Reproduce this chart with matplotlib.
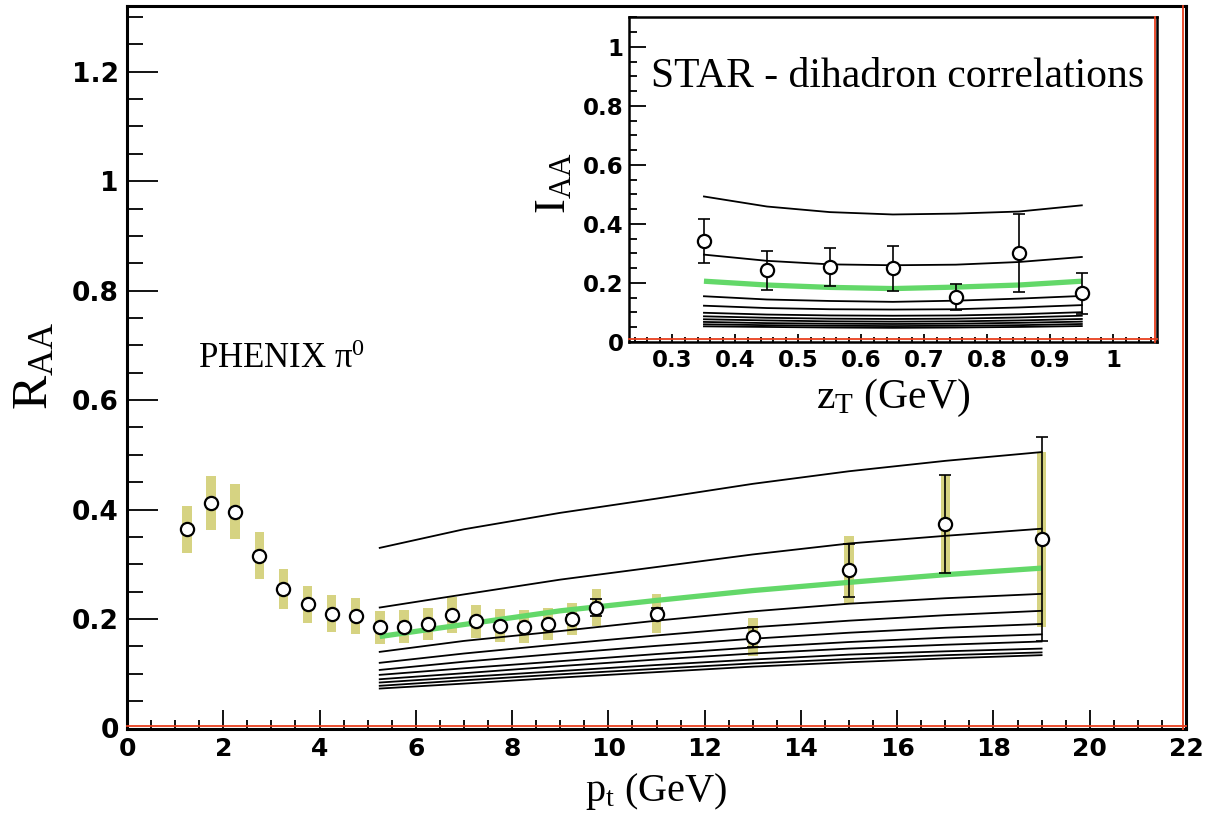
import numpy as np
import matplotlib
matplotlib.use("Agg")
import matplotlib.pyplot as plt
from matplotlib.ticker import MultipleLocator, FuncFormatter
from matplotlib.transforms import offset_copy

plt.rcParams['mathtext.default'] = 'regular'

# ---------------- main panel data (PHENIX pi0 R_AA) ----------------
pt = [1.25, 1.75, 2.25, 2.75, 3.25, 3.75, 4.25, 4.75, 5.25, 5.75, 6.25, 6.75,
      7.25, 7.75, 8.25, 8.75, 9.25, 9.75, 11, 13, 15, 17, 19]
raa = [0.364, 0.412, 0.396, 0.316, 0.255, 0.227, 0.210, 0.205, 0.185, 0.186,
       0.191, 0.207, 0.196, 0.188, 0.186, 0.191, 0.200, 0.221, 0.210, 0.167,
       0.289, 0.374, 0.346]
raa_stat = [0.005, 0.005, 0.005, 0.005, 0.005, 0.005, 0.005, 0.005, 0.005,
            0.005, 0.005, 0.005, 0.005, 0.005, 0.005, 0.006, 0.008, 0.015,
            0.010, 0.019, 0.048, 0.090, 0.187]
raa_sys = [0.043, 0.050, 0.050, 0.043, 0.037, 0.034, 0.033, 0.033, 0.030,
           0.030, 0.030, 0.033, 0.030, 0.030, 0.030, 0.030, 0.030, 0.033,
           0.036, 0.034, 0.062, 0.090, 0.160]

# theory curves (main panel)
pt_th = [5.25, 7, 9, 11, 13, 15, 17, 19]
raa_th_black = [
    [0.330, 0.364, 0.394, 0.420, 0.447, 0.470, 0.489, 0.505],
    [0.221, 0.245, 0.272, 0.295, 0.318, 0.338, 0.352, 0.365],
    [0.140, 0.160, 0.178, 0.197, 0.214, 0.228, 0.238, 0.246],
    [0.120, 0.137, 0.154, 0.170, 0.185, 0.197, 0.207, 0.215],
    [0.107, 0.122, 0.137, 0.151, 0.164, 0.175, 0.184, 0.191],
    [0.098, 0.110, 0.123, 0.136, 0.148, 0.158, 0.166, 0.172],
    [0.090, 0.101, 0.114, 0.126, 0.137, 0.146, 0.153, 0.159],
    [0.084, 0.094, 0.105, 0.116, 0.126, 0.135, 0.141, 0.146],
    [0.078, 0.088, 0.099, 0.109, 0.119, 0.127, 0.134, 0.139],
    [0.073, 0.082, 0.093, 0.103, 0.113, 0.121, 0.128, 0.134],
]
raa_th_green = [0.168, 0.190, 0.215, 0.234, 0.252, 0.267, 0.281, 0.293]

# ---------------- inset data (STAR dihadron I_AA) ----------------
zt = [0.35, 0.45, 0.55, 0.65, 0.75, 0.85, 0.95]
iaa = [0.342, 0.243, 0.254, 0.249, 0.153, 0.300, 0.165]
iaa_err = [0.073, 0.066, 0.063, 0.075, 0.045, 0.132, 0.070]

iaa_th_black = [
    [0.493, 0.459, 0.440, 0.432, 0.435, 0.442, 0.463],
    [0.296, 0.275, 0.263, 0.260, 0.262, 0.271, 0.288],
    [0.155, 0.144, 0.139, 0.136, 0.140, 0.147, 0.156],
    [0.123, 0.115, 0.111, 0.110, 0.111, 0.117, 0.125],
    [0.099, 0.093, 0.090, 0.089, 0.090, 0.094, 0.101],
    [0.087, 0.082, 0.079, 0.078, 0.079, 0.083, 0.089],
    [0.077, 0.073, 0.070, 0.069, 0.070, 0.073, 0.078],
    [0.068, 0.064, 0.062, 0.061, 0.062, 0.065, 0.069],
    [0.060, 0.057, 0.055, 0.054, 0.055, 0.057, 0.061],
    [0.053, 0.051, 0.049, 0.048, 0.049, 0.051, 0.054],
]
iaa_th_green = [0.206, 0.193, 0.185, 0.181, 0.186, 0.193, 0.206]

main_xticks = [0, 2, 4, 6, 8, 10, 12, 14, 16, 18, 20, 22]
main_yticks = [0, 0.2, 0.4, 0.6, 0.8, 1.0, 1.2]
inset_xticks = [0.3, 0.4, 0.5, 0.6, 0.7, 0.8, 0.9, 1.0]
inset_yticks = [0, 0.2, 0.4, 0.6, 0.8, 1.0]

# ---------------- styles ----------------
BAND = '#d6d382'
GREEN = '#63d869'
RED = '#e8401f'
SERIF = ['Liberation Serif', 'DejaVu Serif']
TICKFONT = {'family': 'DejaVu Sans', 'weight': 'bold'}

W, H = 1206, 817
fig = plt.figure(figsize=(W / 100, H / 100), dpi=100)


def fmt(v, pos=None):
    return '%g' % round(v, 4)


def style_axes(ax, lw, xmaj, xmin, ymaj, ymin, xsize, ysize, xpad, ypad):
    for s in ax.spines.values():
        s.set_linewidth(lw)
        s.set_color('black')
    ax.tick_params(which='both', direction='in', top=False, right=False,
                   width=1.3, color='black')
    ax.tick_params(axis='x', which='major', length=xmaj, pad=xpad)
    ax.tick_params(axis='x', which='minor', length=xmin)
    ax.tick_params(axis='y', which='major', length=ymaj, pad=ypad)
    ax.tick_params(axis='y', which='minor', length=ymin)
    ax.xaxis.set_major_formatter(FuncFormatter(fmt))
    ax.yaxis.set_major_formatter(FuncFormatter(fmt))
    for lab in ax.get_xticklabels():
        lab.set_fontproperties(matplotlib.font_manager.FontProperties(size=xsize, **TICKFONT))
    for lab in ax.get_yticklabels():
        lab.set_fontproperties(matplotlib.font_manager.FontProperties(size=ysize, **TICKFONT))
    # thin red lines inside the bottom and right frame edges (ROOT look)
    tb = offset_copy(ax.transAxes, fig=fig, x=0, y=2.8, units='dots')
    ax.plot([0, 1], [0, 0], transform=tb, color=RED, lw=1.3, clip_on=False, zorder=6)
    tr = offset_copy(ax.transAxes, fig=fig, x=-2.8, y=0, units='dots')
    ax.plot([1, 1], [0, 1], transform=tr, color=RED, lw=1.3, clip_on=False, zorder=6)


# ================= main axes =================
ax = fig.add_axes([127 / W, (H - 728.5) / H, 1059 / W, 722.5 / H])
ax.set_xlim(0, 22)
ax.set_ylim(0, 1.32)
ax.set_xticks(main_xticks)
ax.set_yticks(main_yticks)
ax.xaxis.set_minor_locator(MultipleLocator(0.5))
ax.yaxis.set_minor_locator(MultipleLocator(0.05))

raa_a = np.array(raa)
sys_a = np.array(raa_sys)
ax.bar(pt, 2 * sys_a, bottom=raa_a - sys_a, width=0.2, color=BAND,
       linewidth=0, zorder=1)
for curve in raa_th_black:
    ax.plot(pt_th, curve, color='black', lw=1.3, zorder=2)
ax.plot(pt_th, raa_th_green, color=GREEN, lw=3.8, zorder=3, solid_capstyle='butt')
ax.errorbar(pt, raa, yerr=raa_stat, fmt='none', ecolor='black', elinewidth=1.2,
            capsize=4, capthick=1.2, zorder=4)
ax.plot(pt, raa, 'o', ms=9.5, mfc='white', mec='black', mew=1.6, zorder=5)

style_axes(ax, 2.2, 13.5, 6.5, 22, 11.5, 18, 19, 6, 6)

ax.set_xlabel('p$_{t}$ (GeV)', family=SERIF, fontsize=29, va='baseline')
ax.xaxis.set_label_coords(0.5, -0.101)
ax.set_ylabel('R$_{AA}$', family=SERIF, fontsize=37, va='baseline')
ax.yaxis.set_label_coords(-0.0755, 0.502)

ax.text(1.47, 0.6585, 'PHENIX π$^{0}$', family=SERIF, fontsize=25,
        ha='left', va='baseline', zorder=7)

# ================= inset axes =================
ins = fig.add_axes([629 / W, (H - 342) / H, 528.4 / W, 324.7 / H])
ins.set_facecolor('white')
ins.set_xlim(0.231, 1.070)
ins.set_ylim(0, 1.1)
ins.set_xticks(inset_xticks)
ins.set_yticks(inset_yticks)
ins.xaxis.set_minor_locator(MultipleLocator(0.02))
ins.yaxis.set_minor_locator(MultipleLocator(0.05))

for curve in iaa_th_black:
    ins.plot(zt, curve, color='black', lw=1.3, zorder=2)
ins.plot(zt, iaa_th_green, color=GREEN, lw=3.8, zorder=3, solid_capstyle='butt')
ins.errorbar(zt, iaa, yerr=iaa_err, fmt='none', ecolor='black', elinewidth=1.2,
             capsize=4, capthick=1.2, zorder=4)
ins.plot(zt, iaa, 'o', ms=9.5, mfc='white', mec='black', mew=1.6, zorder=5)

style_axes(ins, 1.8, 6, 3.6, 12, 6, 16.5, 16.5, 5, 4)

ins.set_xlabel('z$_{T}$ (GeV)', family=SERIF, fontsize=30, va='baseline')
ins.xaxis.set_label_coords(0.5, -0.203)
ins.set_ylabel('I$_{AA}$', family=SERIF, fontsize=32, va='baseline')
ins.yaxis.set_label_coords(-0.121, 0.49)

ins.text(0.0416, 0.786, 'STAR - dihadron correlations', family=SERIF,
         fontsize=30, ha='left', va='baseline', transform=ins.transAxes, zorder=7)

fig.savefig('out.png', dpi=100)
